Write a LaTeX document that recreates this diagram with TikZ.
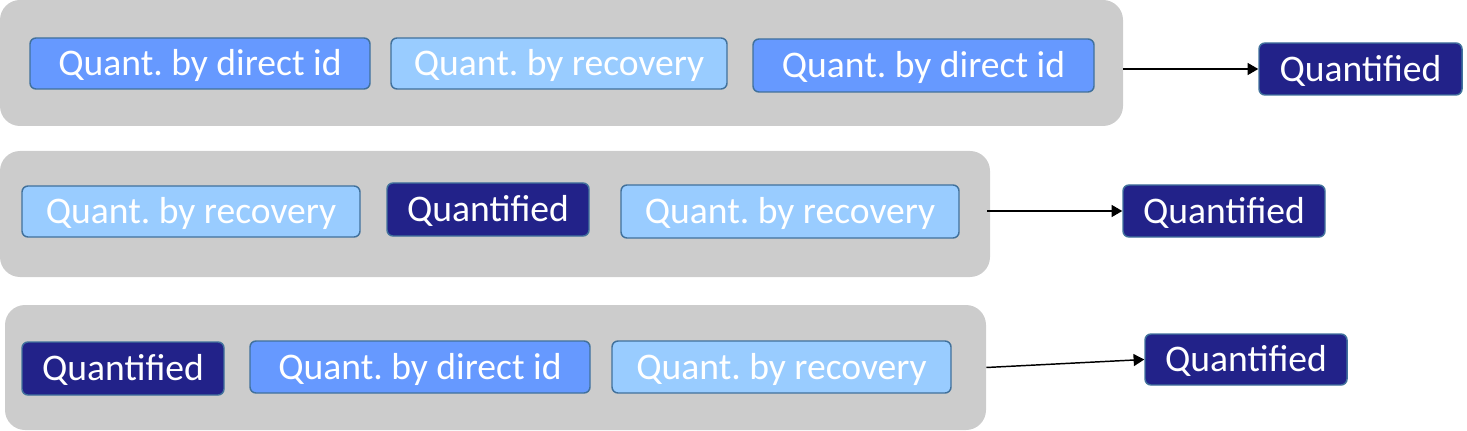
\documentclass[tikz,border=0pt]{standalone}
\usepackage{fontspec}
\setmainfont{Carlito}
\frenchspacing
\usetikzlibrary{arrows.meta}
\definecolor{grayband}{HTML}{CCCCCC}
\definecolor{midblue}{HTML}{6699FF}
\definecolor{lightblue}{HTML}{99CCFF}
\definecolor{navyq}{HTML}{222289}
\definecolor{edgeblue}{HTML}{41719C}
\tikzset{
  x=0.75pt, y=-0.75pt,
  band/.style={fill=grayband, draw=none, rounded corners=15pt, inner sep=0pt},
  tag/.style={draw=edgeblue, line width=1.1pt, rounded corners=4.5pt, text=white,
    inner sep=0pt, font=\fontsize{28.2}{30}\selectfont\frenchspacing, text height=18.1pt, text depth=0pt},
  direct/.style={tag, fill=midblue},
  recov/.style={tag, fill=lightblue},
  quant/.style={tag, fill=navyq},
  link/.style={line width=1.1pt, -{Triangle[length=8pt,width=9pt]}},
}
\begin{document}
\begin{tikzpicture}
\useasboundingbox (0,0) rectangle (1467,431);
% row 1
\node[band, minimum width=842.25pt, minimum height=94.5pt] (g1) at (561.5,63) {};
\node[direct, minimum width=255pt, minimum height=38.25pt] (a) at (200,63.5) {Quant. by direct id};
\node[recov, minimum width=252pt, minimum height=38.25pt] (b) at (559,63.5) {Quant. by recovery};
\node[direct, minimum width=255.75pt, minimum height=39.75pt] (c) at (923.5,65.5) {Quant. by direct id};
\node[quant, minimum width=152.25pt, minimum height=39pt] (q1) at (1360.5,69) {Quantified};
% row 2
\node[band, minimum width=742.5pt, minimum height=94.5pt] (g2) at (495,214) {};
\node[recov, minimum width=253.5pt, minimum height=38.25pt] (d) at (191,211.5) {Quant. by recovery};
\node[quant, minimum width=151.5pt, minimum height=39.75pt] (e) at (488,209.5) {Quantified};
\node[recov, minimum width=253.5pt, minimum height=39.75pt] (f) at (790,211.5) {Quant. by recovery};
\node[quant, minimum width=151.5pt, minimum height=39pt] (q2) at (1224,211) {Quantified};
% row 3
\node[band, minimum width=735.75pt, minimum height=93.75pt] (g3) at (495.5,367.5) {};
\node[quant, minimum width=151.5pt, minimum height=39.75pt] (g) at (123,368.5) {Quantified};
\node[direct, minimum width=255pt, minimum height=39pt] (h) at (420,367) {Quant. by direct id};
\node[recov, minimum width=254.25pt, minimum height=39pt] (i) at (781.5,367) {Quant. by recovery};
\node[quant, minimum width=151.5pt, minimum height=38.25pt] (q3) at (1246,359.5) {Quantified};
% connectors
\draw[link] (g1.east |- q1.west) -- (q1.west);
\draw[link] ([xshift=-2.25pt]g2.east |- q2.west) -- (q2.west);
\draw[link] (g3.east) -- (q3.west);
\end{tikzpicture}
\end{document}
